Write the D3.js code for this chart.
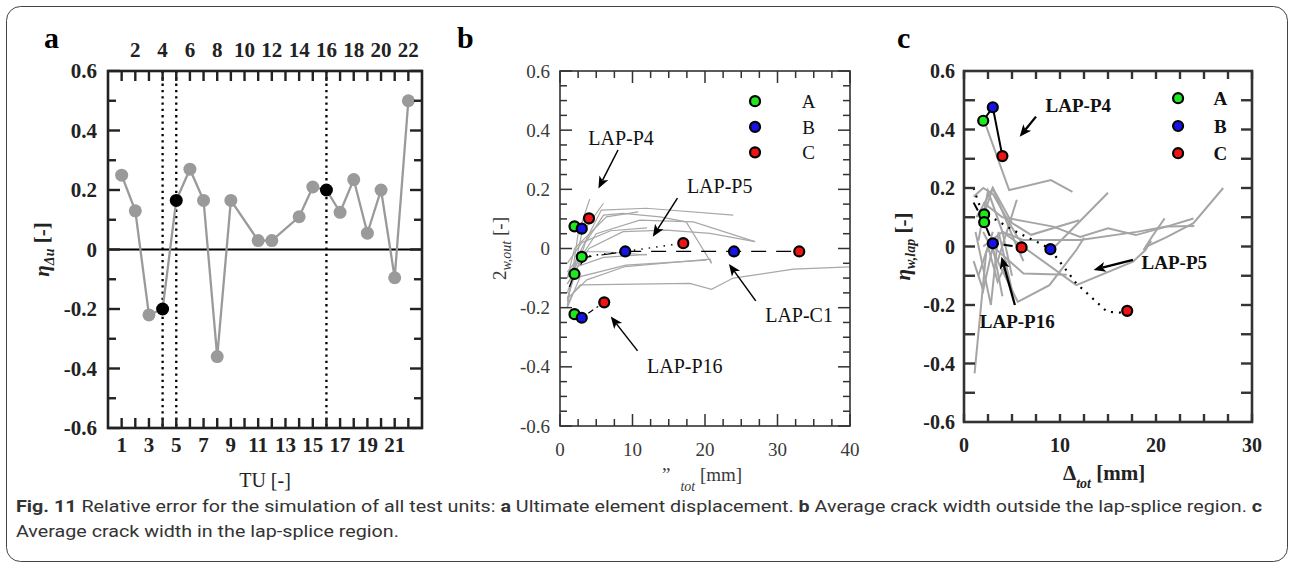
<!DOCTYPE html>
<html>
<head>
<meta charset="utf-8">
<script src="https://cdn.jsdelivr.net/npm/d3@7"></script>
</head>
<body style="margin:0">
<svg id="chart" width="1290" height="566"></svg>
<script>
// ---------- panel a : ultimate displacement error per test unit
const tuIds   = [1,2,3,4,5,6,7,8,9,11,12,14,15,16,17,18,19,20,21,22]
const etaDu   = [0.25,0.13,-0.22,-0.20,0.165,0.27,0.165,-0.36,0.165,0.03,0.03,0.11,0.21,0.20,0.125,0.235,0.055,0.20,-0.095,0.50]
const markedTU = [4,5,16]
const tuTop    = [2,4,6,8,10,12,14,16,18,20,22]
const tuBottom = [1,3,5,7,9,11,13,15,17,19,21]
const tuAll    = [1,2,3,4,5,6,7,8,9,10,11,12,13,14,15,16,17,18,19,20,21,22]
const etaMajor = [-0.6,-0.4,-0.2,0,0.2,0.4,0.6]
const etaMinor = [-0.5,-0.3,-0.1,0.1,0.3,0.5]

// ---------- panel b : crack width outside lap-splice
const dispMajorB = [0,10,20,30,40]
const dispMinorB = [2.5,5,7.5,12.5,15,17.5,22.5,25,27.5,32.5,35,37.5]
const wMinorB    = [-0.55,-0.5,-0.45,-0.35,-0.3,-0.25,-0.15,-0.1,-0.05,0.05,0.1,0.15,0.25,0.3,0.35,0.45,0.5,0.55]
const groups = ['A','B','C']

const bP4  = [[2,0.075],[3,0.067],[4,0.102]]
const bP5  = [[3,-0.028],[9,-0.01],[17,0.018]]
const bC1  = [[2,-0.086],[24,-0.01],[33,-0.01]]
const bP16 = [[2,-0.222],[3,-0.234],[6.1,-0.182]]
const bC1Path = [[1.3,-0.13],[2,-0.086],[3.5,-0.03],[9,-0.01],[24,-0.01],[33,-0.01]]
const bGrey = [
    [[1,-0.2],[2.5,0.05],[4.1,0.167]],
    [[1,-0.18],[3,0.05],[6,0.153]],
    [[1,-0.15],[3,0],[5.7,0.13],[11.9,0.136],[23.9,0.113]],
    [[1,-0.17],[3.5,0.02],[6,0.113],[8.7,0.119],[13.8,0.107],[17.4,0.09],[20.9,-0.05]],
    [[1,-0.12],[4,0],[8.7,0.057],[14.7,0.062],[20.7,0.051],[26.9,0.023]],
    [[1,-0.1],[5,0.05],[11,0.096],[18.4,0.09],[26.9,0.023]],
    [[1,-0.08],[3.2,-0.011],[6,-0.011],[12,-0.022]],
    [[1,-0.2],[2.8,-0.095],[9.1,-0.056],[20.2,-0.039]],
    [[1,-0.19],[1.8,-0.151],[2.8,-0.123],[17.9,-0.118],[20.9,-0.138],[23.9,-0.1],[32.2,-0.07],[40,-0.062]],
    [[1,-0.17],[3.7,-0.106],[9,-0.061],[20.7,-0.036],[20.9,-0.05]],
    [[1,-0.1],[2,0],[6.4,0.107],[10.8,0.124]],
    [[1,-0.05],[3,0.02],[7,0.06],[12,0.07]],
    [[1.2,-0.16],[2,-0.05],[3,0]],
    [[1,-0.12],[2.5,-0.06],[6,-0.03],[12,-0.02]]
]

// ---------- panel c : crack width in lap-splice
const dispTicksC = [0,2.5,5,7.5,10,12.5,15,17.5,20,22.5,25,27.5,30]
const dispLabelsC = [0,10,20,30]
const wTicksC = [-0.5,-0.4,-0.3,-0.2,-0.1,0,0.1,0.2,0.3,0.4,0.5]

const cP4  = [[2,0.43],[3,0.476],[4,0.309]]
const cP5  = [[2.1,0.11],[9,-0.009],[17,-0.22]]
const cP16 = [[2.1,0.083],[3,0.011],[6,-0.003]]
const cP5Path  = [[1,0.2],[1.5,0.15],[2.1,0.11],[3.4,0.09],[5.1,0.056],[6.5,0.033],[7.9,0.011],[9,-0.009],[9.3,-0.023],[11.7,-0.126],[14.9,-0.223],[16.2,-0.226],[17,-0.22]]
const cP16Path = [[1,0.15],[2.1,0.083],[3,0.011],[6,-0.003]]
const cGrey = [
    [[2.27,0.415],[4.7,0.193],[9.05,0.227],[11.3,0.187]],
    [[1,0.17],[2,0.2],[3,0.18],[5.6,0.03],[6.5,0]],
    [[1.3,0.1],[3,0.2],[4,0.12],[5.5,0],[6.2,-0.05]],
    [[3.5,-0.05],[5.5,0.16]],
    [[2,0.15],[4,0.1],[6.5,0.085],[9.3,0.068],[12.1,0.033],[15,0.062],[17.9,0.039],[21.1,0.068],[23.9,0.096]],
    [[2,0],[4,0.05],[6.2,0.022],[12.1,0.022],[18,0.05],[21.1,0.068],[24,0.07]],
    [[9.3,-0.006],[15,0.184]],
    [[18.7,-0.012],[19.6,0.034],[20.9,0.096]],
    [[19,0.0],[21,0.03],[23.9,0.08],[27,0.2]],
    [[1.1,-0.434],[2.3,-0.023],[3,0.05]],
    [[2,0.05],[5.6,-0.189],[8.9,-0.132],[11.7,-0.012],[12.5,0.03]],
    [[3,0],[6.2,-0.092],[10.7,-0.097]],
    [[4,0.05],[11.7,-0.132],[17.6,-0.052],[18.9,-0.012],[19.5,0.02]],
    [[1.5,-0.1],[2.5,0],[3.5,-0.12],[4.5,-0.05]],
    [[1,-0.05],[2,-0.15],[3,0],[4,-0.17]],
    [[1.2,0.05],[2.8,-0.2],[3.6,0.05],[5,-0.15]],
    [[2,0.1],[3,0.2],[5,0.08],[7,0.04],[12,0.09]],
    [[1.5,0.02],[2.5,0.19],[4,0.05],[5,-0.1]]
]

// ---------- styles / layout
const serif = "Liberation Serif"
const groupColors = ['#1fe81f','#1414e8','#ee1414']

const svg = d3.select('#chart')

/**
 * inward ticks on the four sides of a plot box,
 * as thin filled rects (one per tick) plus a stroked path
 */
function innerTicks(svg, xs, ys, xVals, yVals, len, color, width) {
    const xr = xs.range(), yr = ys.range()
    const x0 = xr[0], x1 = xr[1], yB = yr[0], yT = yr[1]
    const marks = []
    xVals.forEach(v => {
        marks.push({x: xs(v) - width/2, y: yB - len, w: width, h: len})
        marks.push({x: xs(v) - width/2, y: yT, w: width, h: len})
    })
    yVals.forEach(v => {
        marks.push({x: x0, y: ys(v) - width/2, w: len, h: width})
        marks.push({x: x1 - len, y: ys(v) - width/2, w: len, h: width})
    })
    svg.append('g').selectAll('rect')
        .data(marks)
        .enter()
        .append('rect')
            .attr('x', d => d.x).attr('y', d => d.y)
            .attr('width', d => d.w).attr('height', d => d.h)
            .attr('fill', color)
}

/**
 * tick labels: side 'left' | 'top' | 'bottom'
 */
function tickLabels(svg, scale, vals, side, at, size, weight, color) {
    svg.append('g').selectAll('text')
        .data(vals)
        .enter()
        .append('text')
            .attr('x', d => side == 'left' ? at : scale(d))
            .attr('y', d => side == 'left' ? scale(d) : at)
            .attr('dy','0.35em')
            .attr('text-anchor', side == 'left' ? 'end' : 'middle')
            .attr('font-family',serif).attr('font-size',size).attr('font-weight',weight)
            .attr('fill',color)
            .text(d => String(d))
}

function frame(svg, xs, ys, stroke, width) {
    const xr = xs.range(), yr = ys.range()
    svg.append('rect')
        .attr('x',xr[0]).attr('y',yr[1])
        .attr('width',xr[1]-xr[0])
        .attr('height',yr[0]-yr[1])
        .attr('fill','none').attr('stroke',stroke).attr('stroke-width',width)
}

const line2 = (x,y) => d3.line().x(d => x(d[0])).y(d => y(d[1]))

function printGroupDots(svg, x, y, pts, r) {
    svg.append('g').selectAll('circle')
        .data(pts)
        .enter()
        .append('circle')
            .attr('cx', d => x(d[0]))
            .attr('cy', d => y(d[1]))
            .attr('r', r)
            .attr('fill', (d,i) => groupColors[i])
            .attr('stroke','#000').attr('stroke-width',2.2)
}

function panelLetter(svg, ch, x, y) {
    svg.append('text').attr('x',x).attr('y',y).text(ch)
        .attr('font-family',serif).attr('font-size',30).attr('font-weight','bold')
}

// arrow drawn as shaft + filled head, pointing at a.to
function annotate(svg, x, y, a, weight, width) {
    svg.append('text').attr('x',x(a.tx)).attr('y',y(a.ty)).text(a.label)
        .attr('font-family',serif).attr('font-size',a.size).attr('font-weight',weight)
        .attr('fill','#111')
    const x1 = x(a.from[0]), y1 = y(a.from[1]), x2 = x(a.to[0]), y2 = y(a.to[1])
    const ang = Math.atan2(y2-y1, x2-x1), L = 12, W = 5
    const hx = x2 - L*Math.cos(ang), hy = y2 - L*Math.sin(ang)
    svg.append('line')
        .attr('x1',x1).attr('y1',y1).attr('x2',hx + 3*Math.cos(ang)).attr('y2',hy + 3*Math.sin(ang))
        .attr('stroke','#000').attr('stroke-width',width)
    svg.append('path')
        .attr('d', `M${x2},${y2}L${hx - W*Math.sin(ang)},${hy + W*Math.cos(ang)}L${hx + 3*Math.cos(ang)},${hy + 3*Math.sin(ang)}L${hx + W*Math.sin(ang)},${hy - W*Math.cos(ang)}Z`)
        .attr('fill','#000')
}

function legend(svg, x, y, lg, weight) {
    groups.forEach((gname,i) => {
        svg.append('circle')
            .attr('cx',x(lg.cx)).attr('cy',y(lg.cy[i])).attr('r',5)
            .attr('fill',groupColors[i]).attr('stroke','#000').attr('stroke-width',2.2)
        svg.append('text')
            .attr('x',x(lg.tx)).attr('y',y(lg.cy[i])).attr('dy','0.35em')
            .attr('text-anchor','middle').text(gname)
            .attr('font-family',serif).attr('font-size',19).attr('font-weight',weight)
            .attr('fill','#111')
    })
}

svg.append('rect')
    .attr('x',6.5).attr('y',6.5).attr('width',1281).attr('height',555).attr('rx',14)
    .attr('fill','none').attr('stroke','#444').attr('stroke-width',1)

// scales of the three panels
const ax = d3.scaleLinear().domain([0,23]).range([108,422])
const ay = d3.scaleLinear().domain([-0.6,0.6]).range([428,71])
const bxs = d3.scaleLinear().domain([0,40]).range([560,850])
const bys = d3.scaleLinear().domain([-0.6,0.6]).range([426,71])
const cxs = d3.scaleLinear().domain([0,30]).range([964,1252])
const cys = d3.scaleLinear().domain([-0.6,0.6]).range([422,71])

// =============== panel a
{
    const x = ax, y = ay
    panelLetter(svg,'a',44,48)

    svg.append('line')
        .attr('x1',x(0)).attr('x2',x(23)).attr('y1',y(0)).attr('y2',y(0))
        .attr('stroke','#000').attr('stroke-width',2.2)
    svg.append('g').selectAll('line')
        .data(markedTU)
        .enter()
        .append('line')
            .attr('x1',d => x(d)).attr('x2',d => x(d))
            .attr('y1',y(0.6)).attr('y2',y(-0.6))
            .attr('stroke','#000').attr('stroke-width',2.3)
            .attr('stroke-dasharray','2.3,4')

    const pts = tuIds.map((t,i) => [t, etaDu[i]])
    svg.append('path').datum(pts)
        .attr('d', line2(x,y))
        .attr('fill','none').attr('stroke','#9a9a9a').attr('stroke-width',2.3)
    svg.append('g').selectAll('circle')
        .data(pts)
        .enter()
        .append('circle')
            .attr('cx',d => x(d[0])).attr('cy',d => y(d[1])).attr('r',6.5)
            .attr('fill',d => markedTU.includes(d[0]) ? '#000' : '#9a9a9a')

    tickLabels(svg, y, etaMajor, 'left', 97, 21, 'bold', '#222')
    tickLabels(svg, x, tuTop, 'top', 50, 21, 'bold', '#222')
    tickLabels(svg, x, tuBottom, 'bottom', 445, 21, 'bold', '#222')

    svg.append('text')
        .attr('x',(x(0)+x(23))/2).attr('y',487).attr('text-anchor','middle')
        .text('TU [-]')
        .attr('font-family',serif).attr('font-size',20).attr('fill','#222')

    const yt = svg.append('text')
        .attr('transform',`translate(49,${(y(0.6)+y(-0.6))/2}) rotate(-90)`)
        .attr('text-anchor','middle')
        .attr('font-family',serif).attr('font-size',21).attr('font-weight','bold').attr('fill','#222')
    yt.append('tspan').text('η').attr('font-style','italic')
    yt.append('tspan').text('Δu').attr('dy',5).attr('font-size',14).attr('font-style','italic')
    yt.append('tspan').text(' [-]').attr('dy',-5)
}

// =============== panel b
{
    const x = bxs, y = bys
    panelLetter(svg,'b',457,48)

    bGrey.forEach(ln =>
        svg.append('path').datum(ln)
            .attr('d', line2(x,y))
            .attr('fill','none').attr('stroke','#a8a8a8').attr('stroke-width',1.2)
    )

    svg.append('path').datum(bC1Path).attr('d', line2(x,y))
        .attr('fill','none').attr('stroke','#000').attr('stroke-width',1.2)
        .attr('stroke-dasharray','15,10')
    svg.append('path').datum(bP5).attr('d', line2(x,y))
        .attr('fill','none').attr('stroke','#000').attr('stroke-width',1.4)
        .attr('stroke-dasharray','1.5,6')
    svg.append('path').datum(bP16).attr('d', line2(x,y))
        .attr('fill','none').attr('stroke','#000').attr('stroke-width',1.2)
        .attr('stroke-dasharray','6,4,2,4')

    ;[bP4, bP5, bC1, bP16].forEach(s => printGroupDots(svg, x, y, s, 5))

    tickLabels(svg, y, etaMajor, 'left', 550, 19, 'normal', '#3a3a3a')
    tickLabels(svg, x, dispMajorB, 'bottom', 449, 19, 'normal', '#3a3a3a')

    legend(svg, x, y, {cx:26.9, tx:34.3, cy:[0.498,0.411,0.325]}, 'normal')

    annotate(svg, x, y, {label:'LAP-P4', size:20, tx:3.9, ty:0.35, from:[8.0,0.333], to:[5.3,0.203]}, 'normal', 1.5)
    annotate(svg, x, y, {label:'LAP-P5', size:20, tx:17.5, ty:0.187, from:[16.2,0.17], to:[12.8,0.04]}, 'normal', 1.5)
    annotate(svg, x, y, {label:'LAP-C1', size:20, tx:28.3, ty:-0.248, from:[27.0,-0.177], to:[23.3,-0.052]}, 'normal', 1.5)
    annotate(svg, x, y, {label:'LAP-P16', size:20, tx:12.0, ty:-0.42, from:[10.7,-0.346], to:[7.0,-0.23]}, 'normal', 1.5)

    const xt = svg.append('text').attr('x',662).attr('y',481)
        .attr('font-family',serif).attr('font-size',19).attr('fill','#3a3a3a')
    xt.append('tspan').text('”')
    xt.append('tspan').text('tot').attr('dx',10).attr('dy',10).attr('font-size',14).attr('font-style','italic')
    xt.append('tspan').text(' [mm]').attr('dy',-10)

    const yt = svg.append('text')
        .attr('transform',`translate(506,${(y(0.6)+y(-0.6))/2}) rotate(-90)`)
        .attr('text-anchor','middle')
        .attr('font-family',serif).attr('font-size',19).attr('fill','#3a3a3a')
    yt.append('tspan').text('2')
    yt.append('tspan').text('w,out').attr('dy',5).attr('font-size',14).attr('font-style','italic')
    yt.append('tspan').text(' [-]').attr('dy',-5)
}

// =============== panel c
{
    const x = cxs, y = cys
    panelLetter(svg,'c',897,48)

    cGrey.forEach(ln =>
        svg.append('path').datum(ln)
            .attr('d', line2(x,y))
            .attr('fill','none').attr('stroke','#a5a5a5').attr('stroke-width',2)
    )

    svg.append('path').datum(cP4).attr('d', line2(x,y))
        .attr('fill','none').attr('stroke','#000').attr('stroke-width',2)
    svg.append('path').datum(cP5Path).attr('d', line2(x,y))
        .attr('fill','none').attr('stroke','#000').attr('stroke-width',2.2)
        .attr('stroke-dasharray','2,6')
    svg.append('path').datum(cP16Path).attr('d', line2(x,y))
        .attr('fill','none').attr('stroke','#000').attr('stroke-width',2)
        .attr('stroke-dasharray','9,5')

    ;[cP4, cP5, cP16].forEach(s => printGroupDots(svg, x, y, s, 5))

    tickLabels(svg, y, etaMajor, 'left', 955, 20, 'bold', '#222')
    tickLabels(svg, x, dispLabelsC, 'bottom', 445, 20, 'bold', '#222')

    legend(svg, x, y, {cx:22.3, tx:26.7, cy:[0.507,0.412,0.319]}, 'bold')

    annotate(svg, x, y, {label:'LAP-P4', size:19, tx:8.5, ty:0.46, from:[7.5,0.444], to:[5.8,0.375]}, 'bold', 2.3)
    annotate(svg, x, y, {label:'LAP-P5', size:19, tx:18.5, ty:-0.077, from:[17.6,-0.046], to:[13.5,-0.08]}, 'bold', 2.3)
    annotate(svg, x, y, {label:'LAP-P16', size:19, tx:1.64, ty:-0.279, from:[5.3,-0.2], to:[3.9,-0.035]}, 'bold', 2.3)

    const xt = svg.append('text').attr('x',1063).attr('y',480)
        .attr('font-family',serif).attr('font-size',21).attr('font-weight','bold').attr('fill','#222')
    xt.append('tspan').text('Δ')
    xt.append('tspan').text('tot').attr('dy',8).attr('font-size',14).attr('font-style','italic')
    xt.append('tspan').text(' [mm]').attr('dy',-8)

    const yt = svg.append('text')
        .attr('transform',`translate(910,${(y(0.6)+y(-0.6))/2}) rotate(-90)`)
        .attr('text-anchor','middle')
        .attr('font-family',serif).attr('font-size',21).attr('font-weight','bold').attr('fill','#222')
    yt.append('tspan').text('η').attr('font-style','italic')
    yt.append('tspan').text('w,lap').attr('dy',5).attr('font-size',14).attr('font-style','italic')
    yt.append('tspan').text(' [-]').attr('dy',-5)
}

// =============== caption
{
    const sans = "Roboto"
    const parts = [
        ['Fig. 11', true], ['  Relative error for the simulation of all test units: ', false],
        ['a', true], [' Ultimate element displacement. ', false],
        ['b', true], [' Average crack width outside the lap-splice region. ', false],
        ['c', true]
    ]
    const l1 = svg.append('text').attr('x',16).attr('y',512)
        .attr('font-family',sans).attr('font-size',17).attr('fill','#333')
    parts.forEach(([t,b]) =>
        l1.append('tspan').text(t).attr('font-weight', b ? 'bold' : 'normal')
    )
    const l2 = svg.append('text').attr('x',16).attr('y',537)
        .attr('font-family',sans).attr('font-size',17).attr('fill','#333')
        .text('Average crack width in the lap-splice region.')
    const r = 1246 / l1.node().getComputedTextLength()
    const w2 = l2.node().getComputedTextLength()
    l1.attr('textLength',1246).attr('lengthAdjust','spacingAndGlyphs')
    l2.attr('textLength',w2*r).attr('lengthAdjust','spacingAndGlyphs')
}

// =============== ticks and frames, drawn last
innerTicks(svg, ax, ay, tuAll, [], 10, '#222', 2.4)
innerTicks(svg, ax, ay, [], etaMajor, 12, '#222', 2.4)
innerTicks(svg, ax, ay, [], etaMinor, 8, '#222', 2.4)
frame(svg, ax, ay, '#222', 2.6)

innerTicks(svg, bxs, bys, dispMajorB, etaMajor, 12, '#333', 1.5)
innerTicks(svg, bxs, bys, dispMinorB, wMinorB, 7, '#333', 1.5)
frame(svg, bxs, bys, '#333', 1.6)

innerTicks(svg, cxs, cys, dispTicksC, [], 8, '#333', 2.4)
innerTicks(svg, cxs, cys, [], wTicksC, 11, '#333', 2.4)
frame(svg, cxs, cys, '#333', 2.6)
</script>
</body>
</html>
